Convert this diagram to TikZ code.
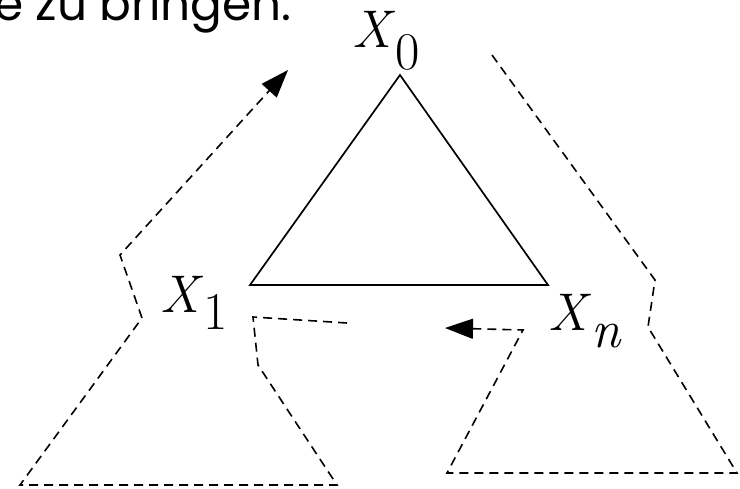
\documentclass[tikz,border=0pt]{standalone}
\usepackage{fontspec}
\newfontfamily\handfont{Poppins}
\usetikzlibrary{arrows.meta, positioning}
\tikzstyle{edge} = [line width=1.7pt, line join=miter]
\tikzstyle{track} = [line width=1.6pt, dash pattern=on 9pt off 6pt, line join=miter]
\tikzstyle{tip} = [-{Triangle[length=28pt, width=20pt]}]
\tikzstyle{var} = [anchor=base west, inner sep=0pt, font=\rmfamily\fontsize{53}{56}\selectfont]
\newcommand{\low}[1]{\raisebox{-17pt}{#1}}

\begin{document}
\begin{tikzpicture}[x=1pt, y=-1pt]
      \useasboundingbox (0,0) rectangle (740,488);
      % caption line, cut at the top
      \node[anchor=base east, inner sep=0pt, font=\handfont\fontsize{47}{49}\selectfont] (cap) at (292,20) {e zu bringen.};

      % the tree
      \coordinate (top) at (400,75);
      \coordinate (lft) at (250,285);
      \coordinate (rgt) at (548,285);
      \draw[edge] (top) -- (lft) -- (rgt) -- cycle;

      \node[var] (x0) at (352,47) {\textit{X}\raisebox{-22pt}{0}};
      \node[var] (x1) at (160,312) {\textit{X}\low{1}};
      \node[var] (xn) at (548,330) {\textit{X}\low{\textit{n}}};

      % left subtree and the way up
      \coordinate (a1) at (347,323);
      \coordinate (a2) at (253,317);
      \coordinate (a3) at (258,365);
      \coordinate (a4) at (337,485);
      \coordinate (a5) at (20,485);
      \coordinate (a6) at (142,318);
      \coordinate (a7) at (120,255);
      \coordinate (a8) at (288,70);
      \draw[track, tip] (a1) -- (a2) -- (a3) -- (a4) -- (a5) -- (a6) -- (a7) -- (a8);

      % right subtree and the way back
      \coordinate (b1) at (492,55);
      \coordinate (b2) at (655,280);
      \coordinate (b3) at (648,327);
      \coordinate (b4) at (737,473);
      \coordinate (b5) at (447,473);
      \coordinate (b6) at (523,330);
      \coordinate (b7) at (445,328);
      \draw[track, tip] (b1) -- (b2) -- (b3) -- (b4) -- (b5) -- (b6) -- (b7);
    \end{tikzpicture}
\end{document}
